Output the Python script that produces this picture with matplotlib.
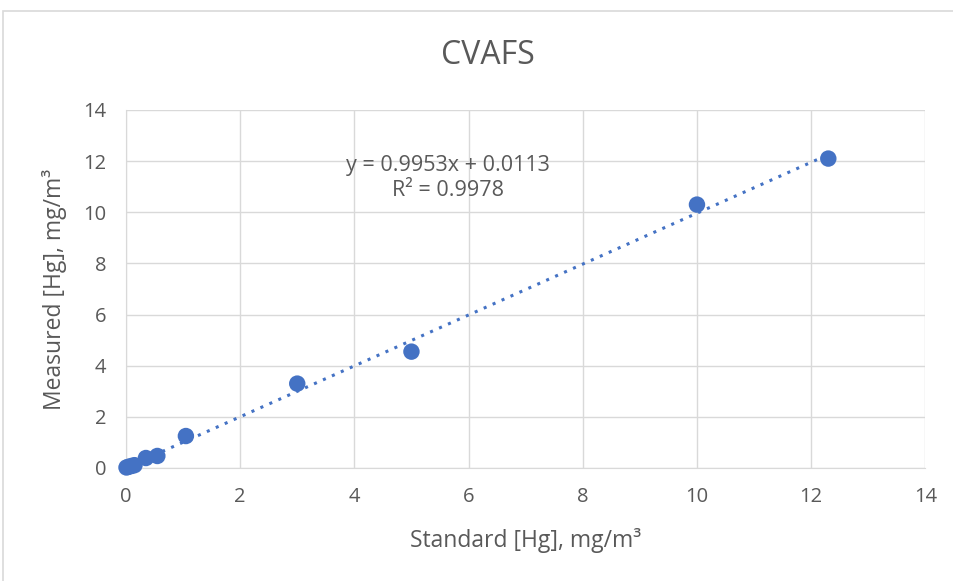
import matplotlib.pyplot as plt
import numpy as np
from matplotlib.patches import Rectangle

# standard vs measured Hg concentrations, mg/m3
standard = [0.01, 0.05, 0.10, 0.15, 0.35, 0.55, 1.05, 3.0, 5.0, 10.0, 12.3]
measured = [0.02, 0.05, 0.08, 0.11, 0.39, 0.47, 1.25, 3.3, 4.55, 10.3, 12.1]

slope = 0.9953
intercept = 0.0113
r2 = 0.9978

ticks = [0, 2, 4, 6, 8, 10, 12, 14]

blue = '#4472C4'
grey = '#595959'
gridc = '#d9d9d9'

plt.rcParams['font.family'] = ['Open Sans', 'DejaVu Sans']

fig = plt.figure(figsize=(9.54, 5.81), dpi=100)
ax = fig.add_axes([0.132, 0.1945, 0.838, 0.6162])

# outer chart border
fig.patches.append(Rectangle((3/954, -0.05), 1.2, 1 - 11/581 + 0.05, transform=fig.transFigure,
                             fill=False, edgecolor=gridc, lw=1.2))

ax.scatter(standard, measured, s=140, color=blue, zorder=3, edgecolors='none', clip_on=False)

xs = np.array([min(standard), max(standard)])
ax.plot(xs, slope*xs + intercept, linestyle=(0, (1, 2.2)), color=blue, lw=2.2, zorder=2)

ax.set_xlim(0, 14)
ax.set_ylim(0, 14)
ax.set_xticks(ticks)
ax.set_yticks(ticks)
ax.grid(True, color=gridc, lw=1)
ax.set_axisbelow(True)
for s in ['top', 'right']:
    ax.spines[s].set_visible(False)
ax.spines['left'].set_color(gridc)
ax.spines['bottom'].set_color(gridc)
ax.tick_params(axis='y', length=0, labelsize=14.5, colors=grey, pad=14)
ax.tick_params(axis='x', length=0, labelsize=14.5, colors=grey, pad=14)

ax.set_xlabel('Standard [Hg], mg/m³', fontsize=16.5, color=grey, labelpad=15)
ax.set_ylabel('Measured [Hg], mg/m³', fontsize=16.5, color=grey, labelpad=12)

fig.text(0.511, 0.905, 'CVAFS', ha='center', va='center', fontsize=23, color=grey)
ax.text(5.64, 11.34, 'y = 0.9953x + 0.0113\nR² = 0.9978', ha='center', va='center',
        fontsize=15.5, color=grey, linespacing=1.3)

fig.savefig('out.png', dpi=100)
